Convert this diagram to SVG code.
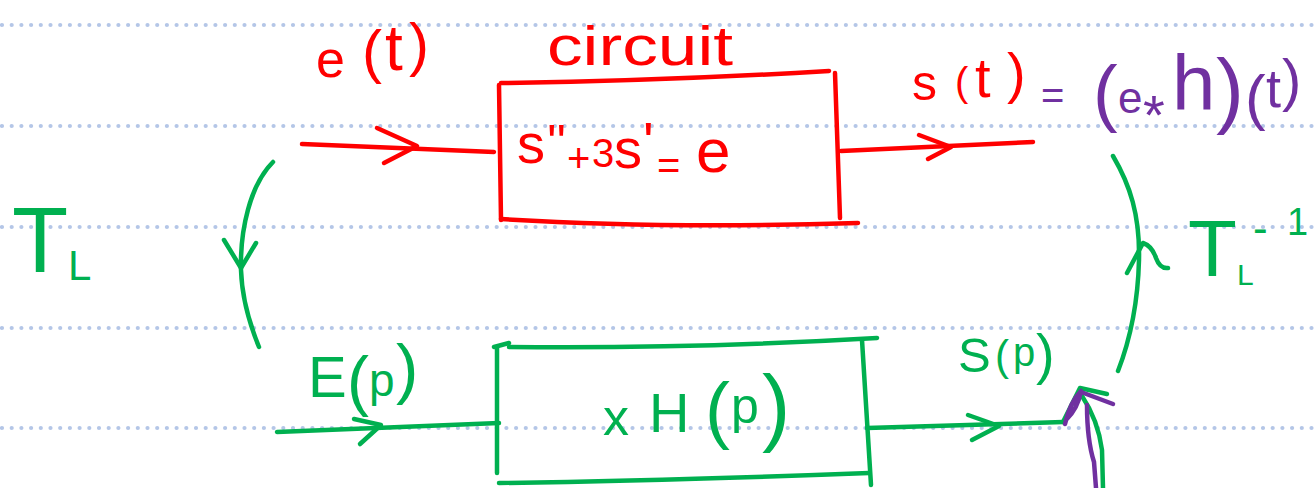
<svg xmlns="http://www.w3.org/2000/svg" width="1314" height="488" viewBox="0 0 1314 488">
<style>
.s{fill:none;stroke-width:4.5;stroke-linecap:round;stroke-linejoin:round}
.r{stroke:#ff0000}
.g{stroke:#00b050}
.p{stroke:#7030a0}
.grid{stroke:#b4c6e7;stroke-width:4.2;stroke-linecap:round;stroke-dasharray:0 9.7}
text{font-family:"Liberation Sans",Arial,sans-serif}
.tr{fill:#ff0000}
.tg{fill:#00b050}
.tp{fill:#7030a0}
</style>
<rect width="1314" height="488" fill="#ffffff"/>
<g id="grid">
<line class="grid" x1="2" y1="25" x2="1314" y2="25"/>
<line class="grid" x1="2" y1="126" x2="1314" y2="126"/>
<line class="grid" x1="2" y1="227" x2="1314" y2="227"/>
<line class="grid" x1="2" y1="328" x2="1314" y2="328"/>
<line class="grid" x1="2" y1="428" x2="1314" y2="428"/>
</g>
<g id="node-circuit">
<path class="s r" d="M501,83 Q660,81 829,71"/>
<path class="s r" d="M499,85 L501,220"/>
<path class="s r" d="M501,219 Q660,229 858,223"/>
<path class="s r" d="M835,73 L840,218"/>
<text class="tr" x="547" y="65" font-size="56" textLength="186" lengthAdjust="spacingAndGlyphs">circuit</text>
<text class="tr" font-size="56"><tspan x="517" y="163">s</tspan><tspan x="547" y="160" font-size="50">''</tspan><tspan x="567" y="172" font-size="40">+</tspan><tspan x="592" y="167" font-size="40">3</tspan><tspan x="614" y="168">s</tspan><tspan x="643" y="161">'</tspan><tspan x="657" y="179" font-size="40">=</tspan><tspan x="696" y="172" font-size="62">e</tspan></text>
</g>
<g id="node-transfer">
<path class="s g" d="M494,347 L509,343"/>
<path class="s g" d="M497,347 L497,473"/>
<path class="s g" d="M509,347 Q690,349 877,338"/>
<path class="s g" d="M862,340 L871,485"/>
<path class="s g" d="M499,483 Q660,481 869,473"/>
<text class="tg"><tspan x="603" y="435" font-size="52">x</tspan><tspan font-size="16"> </tspan><tspan x="649" y="432" font-size="56">H</tspan><tspan x="705" y="435" font-size="75">(</tspan><tspan x="731" y="423" font-size="50">p</tspan><tspan x="762" y="435" font-size="85">)</tspan></text>
</g>
<g id="label-et">
<text class="tr"><tspan x="316" y="77" font-size="52">e</tspan><tspan x="362" y="72" font-size="60">(</tspan><tspan x="385" y="70" font-size="64">t</tspan><tspan x="409" y="65" font-size="60">)</tspan></text>
</g>
<g id="label-st">
<text><tspan class="tr" x="912" y="100" font-size="50">s</tspan><tspan class="tr" x="955" y="96" font-size="40">(</tspan><tspan class="tr" x="975" y="97" font-size="56">t</tspan><tspan class="tr" x="1007" y="92" font-size="56">)</tspan><tspan class="tp" font-size="12"> </tspan><tspan class="tp" x="1041" y="109" font-size="40">=</tspan><tspan class="tp" font-size="12"> </tspan><tspan class="tp" x="1093" y="118" font-size="74">(</tspan><tspan class="tp" x="1118" y="113" font-size="44">e</tspan><tspan class="tp" x="1143" y="134" font-size="56">*</tspan><tspan class="tp" x="1172" y="110" font-size="78">h</tspan><tspan class="tp" x="1216" y="118" font-size="84">)</tspan><tspan class="tp" x="1245" y="118" font-size="62">(</tspan><tspan class="tp" x="1266" y="107" font-size="54">t</tspan><tspan class="tp" x="1282" y="100" font-size="58">)</tspan></text>
</g>
<g id="label-Ep">
<text class="tg"><tspan x="308" y="397" font-size="58">E</tspan><tspan x="347" y="403" font-size="66">(</tspan><tspan x="369" y="396" font-size="46">p</tspan><tspan x="396" y="391" font-size="67">)</tspan></text>
</g>
<g id="label-Sp">
<text class="tg"><tspan x="958" y="372" font-size="49">S</tspan><tspan x="995" y="370" font-size="42">(</tspan><tspan x="1013" y="366" font-size="40">p</tspan><tspan x="1036" y="373" font-size="56">)</tspan></text>
</g>
<g id="label-TL">
<text class="tg"><tspan x="12" y="272" font-size="92">T</tspan><tspan x="68" y="280" font-size="42">L</tspan></text>
</g>
<g id="label-TLinv">
<text class="tg"><tspan x="1188" y="276" font-size="80">T</tspan><tspan x="1237" y="285" font-size="30">L</tspan><tspan x="1253" y="243" font-size="44">-</tspan><tspan x="1287" y="235" font-size="38">1</tspan></text>
</g>
<g id="connectors">
<path class="s r" d="M302,144 L494,152"/>
<path class="s r" d="M377,128 L417,146 L384,163"/>
<path class="s r" d="M841,151 L1033,142"/>
<path class="s r" d="M919,135 L951,147 L928,159"/>
<path class="s g" d="M273,162 C250,185 240,230 241,270 C242,300 250,325 259,347"/>
<path class="s g" d="M224,240 L241,268 L256,243"/>
<path class="s g" d="M1113,156 C1130,185 1140,215 1139,260 C1138,300 1130,340 1118,371"/>
<path class="s g" d="M1127,273 L1143,243 Q1152,246 1156,258 Q1160,269 1168,268"/>
<path class="s g" d="M277,432 L499,423"/>
<path class="s g" d="M354,419 L381,425 L360,444"/>
<path class="s g" d="M867,428 L1063,422"/>
<path class="s g" d="M968,415 L999,426 L972,440"/>
<path class="s g" d="M1063,422 L1080,388 L1107,394"/>
<path class="s g" d="M1082,396 Q1098,420 1102,450 L1103,488"/>
<path class="s p" d="M1065,424 Q1070,402 1081,391 Q1078,408 1066,420"/>
<path class="s p" d="M1081,392 L1113,404"/>
<path class="s p" d="M1087,405 Q1087,440 1094,462 L1096,488"/>
</g>
</svg>
